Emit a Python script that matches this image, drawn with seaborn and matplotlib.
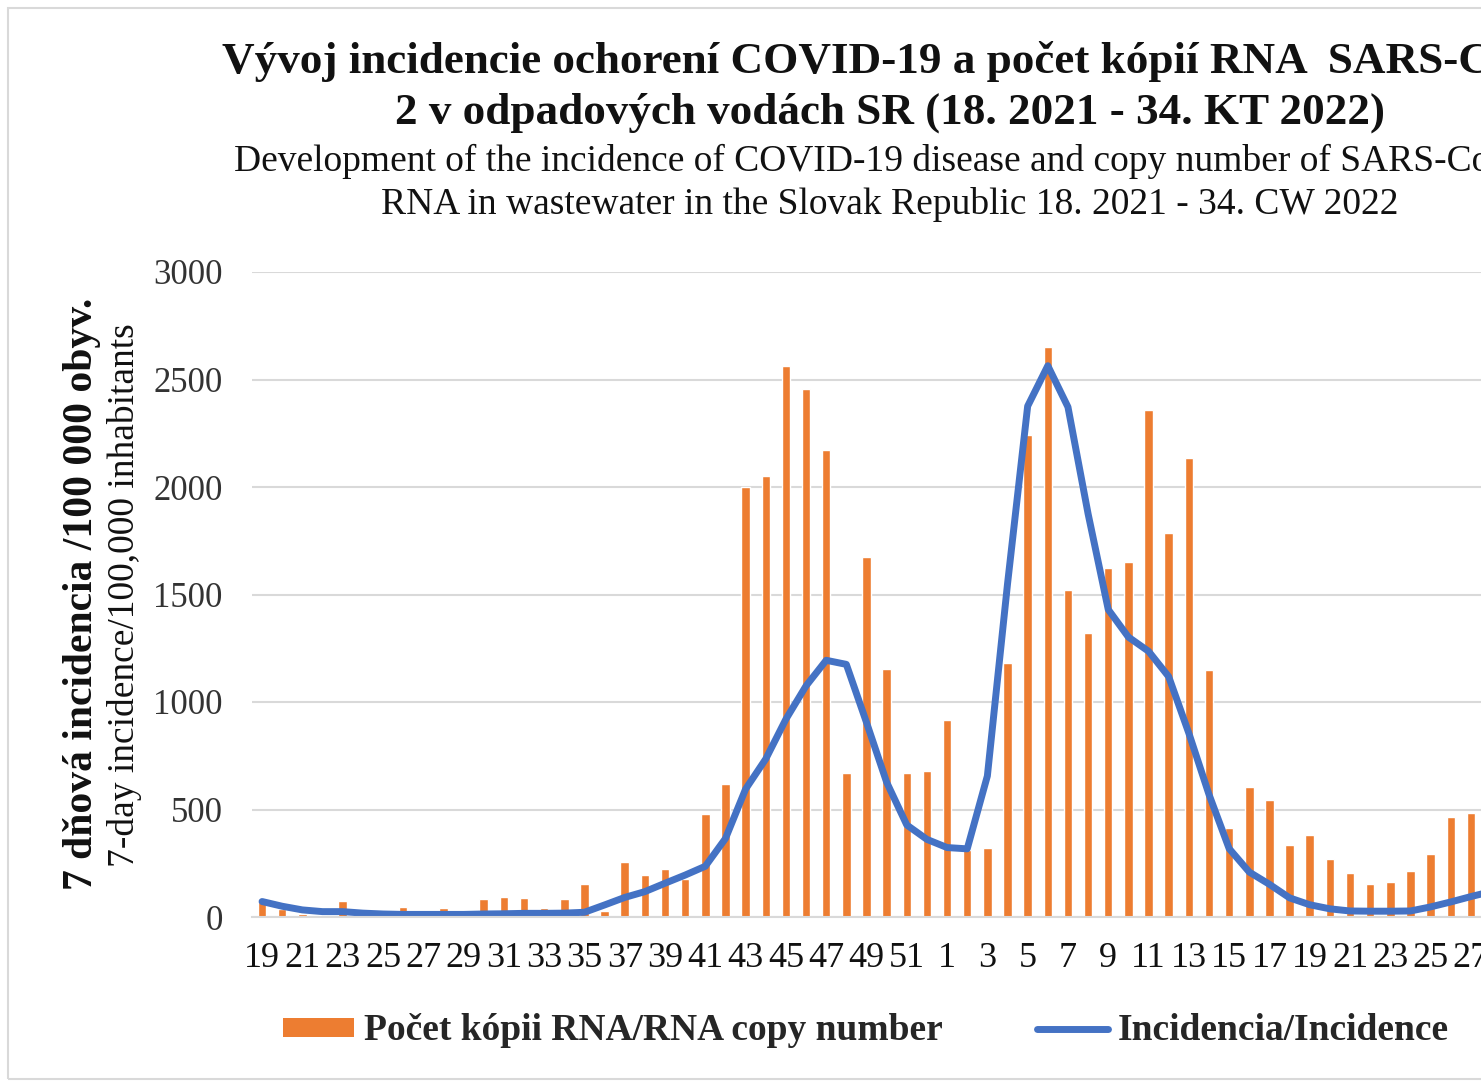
import numpy as np
import pandas as pd
import matplotlib
matplotlib.use("Agg")
import matplotlib.pyplot as plt
import seaborn as sns
from matplotlib.patches import Rectangle, Patch
from matplotlib.lines import Line2D

# calendar weeks: 19/2021 .. 34/2022
weeks_2021 = list(range(19, 53))
weeks_2022 = list(range(1, 35))
week_labels = [str(w) for w in weeks_2021 + weeks_2022]

rna_copies = [70, 35, 15, 8, 75, 8, 30, 45, 8, 40, 30, 82, 92, 90, 42, 82, 152, 30, 255, 196,
              222, 175, 477, 618, 2000, 2050, 2565, 2455, 2170, 668, 1676, 1152, 668, 678,
              917, 310, 322, 1180, 2240, 2652, 1522, 1323, 1623, 1651, 2358, 1785, 2135, 1150,
              412, 605, 545, 336, 383, 271, 203, 152, 161, 213, 294, 465, 484]

# 7-day incidence per 100 000 inhabitants (line)
incidence = [72, 50, 33, 25, 25, 18, 14, 12, 12, 12, 12, 14, 15, 17, 17, 18, 22, 56, 91, 118,
             157, 195, 236, 365, 595, 735, 920, 1075, 1194, 1175, 905, 627, 428, 361,
             323, 317, 656, 1549, 2376, 2564, 2372, 1875, 1430, 1302, 1236, 1118, 855, 570,
             318, 209, 152, 89, 57, 38, 28, 27, 27, 28, 47, 70, 95, 118]

df_bar = pd.DataFrame({"pos": np.arange(len(rna_copies)), "rna": rna_copies})
df_line = pd.DataFrame({"pos": np.arange(len(incidence)), "inc": incidence})

sns.set_theme(style="white")
plt.rcParams["font.family"] = ["Liberation Serif", "DejaVu Serif"]

W, H = 1481, 1083
fig = plt.figure(figsize=(W / 100, H / 100), dpi=100)
# the source picture is cropped on the right, so the axes run past the canvas edge
ax = fig.add_axes([252 / W, 1 - 917 / H, 1370 / W, 645 / H])

sns.barplot(data=df_bar, x="pos", y="rna", native_scale=True, color="#ED7D31",
            saturation=1, width=0.42, errorbar=None, ax=ax)
sns.lineplot(data=df_line, x="pos", y="inc", color="#4472C4", lw=5, ax=ax)

ax.set_xlim(-0.5, len(week_labels) - 0.5)
ax.set_ylim(0, 3000)
ax.set_yticks(np.arange(0, 3001, 500))
ax.set_xticks(np.arange(0, len(week_labels), 2))
ax.set_xticklabels(week_labels[::2])
ax.set_xlabel("")
ax.set_ylabel("")
ax.tick_params(axis="y", length=0, pad=21, labelsize=25, labelcolor="#333333")
ax.tick_params(axis="x", length=0, pad=18, labelsize=26, labelcolor="#111111")
ax.grid(axis="y", color="#D9D9D9", lw=1.5)
ax.set_axisbelow(True)
for s in ["top", "right", "left"]:
    ax.spines[s].set_visible(False)
ax.spines["bottom"].set_color("#D9D9D9")
ax.spines["bottom"].set_linewidth(1.5)

# titles
cx = 890 / W
fig.text(cx, 1 - 62 / H, "Vývoj incidencie ochorení COVID-19 a počet kópií RNA  SARS-CoV-",
         ha="center", va="center", fontsize=32.5, fontweight="bold", color="#111111")
fig.text(cx, 1 - 113 / H, "2 v odpadových vodách SR (18. 2021 - 34. KT 2022)",
         ha="center", va="center", fontsize=32.5, fontweight="bold", color="#111111")
fig.text(cx, 1 - 161 / H, "Development of the incidence of COVID-19 disease and copy number of SARS-CoV-2",
         ha="center", va="center", fontsize=27, color="#111111")
fig.text(cx, 1 - 204 / H, "RNA in wastewater in the Slovak Republic 18. 2021 - 34. CW 2022",
         ha="center", va="center", fontsize=27, color="#111111")

# y axis titles
fig.text(82 / W, 1 - 594 / H, "7 dňová incidencia /100 000 obyv.", rotation=90,
         ha="center", va="center", fontsize=30, fontweight="bold", color="#111111")
fig.text(125 / W, 1 - 595 / H, "7-day incidence/100,000 inhabitants", rotation=90,
         ha="center", va="center", fontsize=27, color="#111111")

# legend
handles = [Patch(facecolor="#ED7D31", edgecolor="none"),
           Line2D([0], [0], color="#4472C4", lw=5)]
fig.legend(handles, ["Počet kópii RNA/RNA copy number", "Incidencia/Incidence"],
           loc="center", bbox_to_anchor=(866 / W, 1 - 1031 / H), ncol=2, frameon=False,
           prop={"weight": "bold", "size": 27}, handlelength=1.9, handleheight=0.4,
           handletextpad=0.27, columnspacing=2.5)

# chart area border
fig.patches.append(Rectangle((8 / W, 4 / H), 2.0, 1 - 12 / H, transform=fig.transFigure,
                             fill=False, edgecolor="#D9D9D9", lw=1.5))

fig.savefig("out.png", dpi=100)
